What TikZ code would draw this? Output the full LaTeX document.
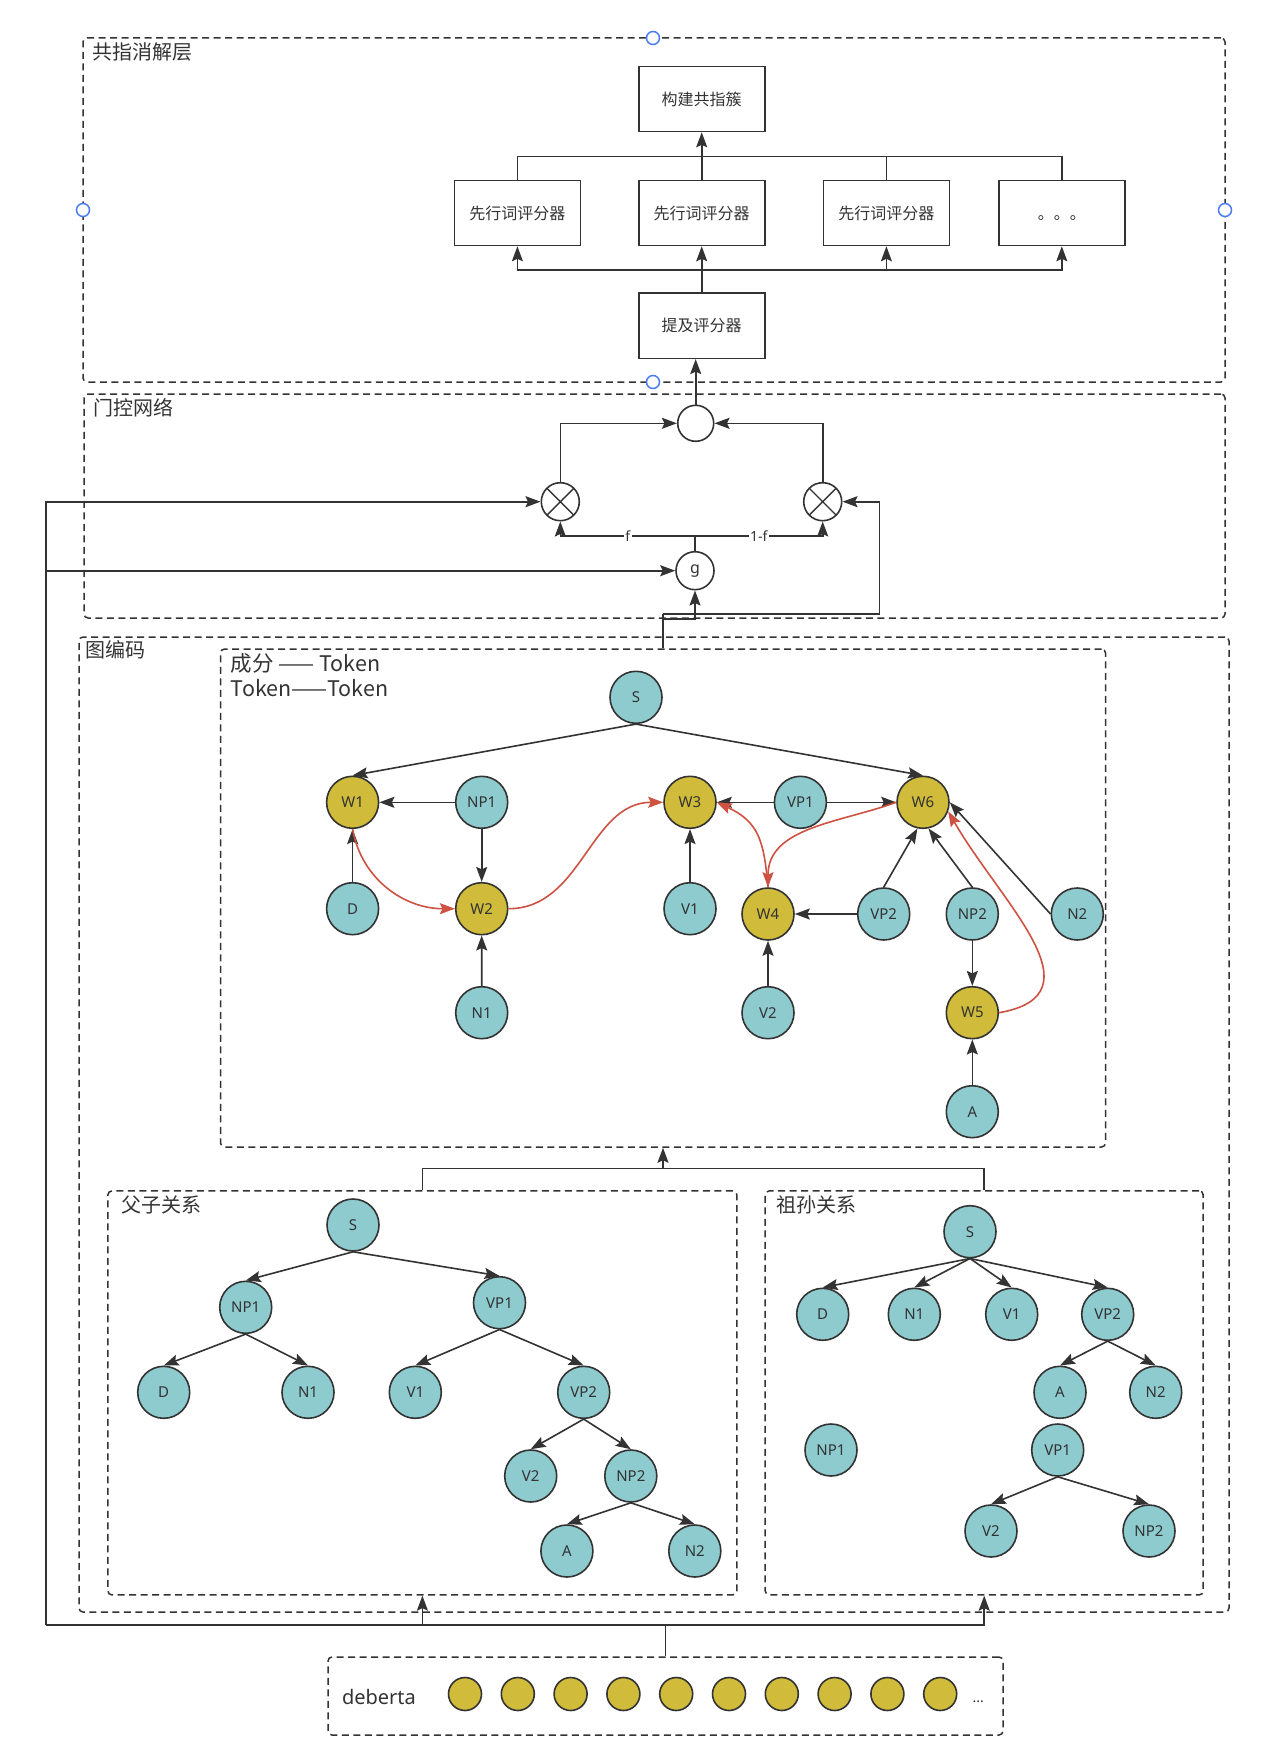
\documentclass[tikz,border=0pt]{standalone}
\usepackage{fontspec}
\setmainfont{Noto Sans}
\newfontfamily\cjk{Noto Sans CJK SC}
\usepackage{xcolor}
\definecolor{linegray}{RGB}{51,51,51}
\definecolor{tealfill}{RGB}{142,203,207}
\definecolor{goldfill}{RGB}{208,188,58}
\definecolor{arcred}{RGB}{205,82,66}
\definecolor{handleblue}{RGB}{74,122,245}
\usepackage{tikz}
\usetikzlibrary{arrows.meta}
\usetikzlibrary{calc}
\newcommand{\sizevertex}{52pt}
\newcommand{\sizeemb}{33pt}
\newcommand{\widthscorer}{126pt}
\newcommand{\heightscorer}{65pt}
\tikzset{
    common/.style={draw=linegray, line width=1.6pt, text=linegray},
    vertex/.style={common, circle, minimum size=\sizevertex, inner sep=0pt, font=\fontsize{15}{18}\selectfont},
    cons/.style={vertex, fill=tealfill},
    tok/.style={vertex, fill=goldfill},
    emb/.style={common, circle, fill=goldfill, minimum size=\sizeemb, inner sep=0pt},
    scorer/.style={common, rectangle, minimum width=\widthscorer, minimum height=\heightscorer, font=\cjk\fontsize{16}{19}\selectfont},
    op/.style={common, circle, minimum size=38pt, inner sep=0pt, font=\fontsize{16}{19}\selectfont},
    mul/.style={
        op,
        path picture={
            \draw[linegray, line width=1.4pt]
                (path picture bounding box.south east)--(path picture bounding box.north west)
                (path picture bounding box.south west)--(path picture bounding box.north east);
        }
    },
    panel/.style={draw=linegray, line width=1.5pt, dash pattern=on 7pt off 4.5pt, rounded corners=4pt, inner sep=0pt},
    paneltitle/.style={anchor=west, inner sep=0pt, text=linegray, font=\cjk\fontsize{20}{24}\selectfont},
    wire/.style={draw=linegray, line width=1.6pt},
    link/.style={wire, -{Stealth[length=15pt, width=11pt, inset=2.5pt]}},
    coref/.style={draw=arcred, line width=1.6pt, -{Stealth[length=15pt, width=11pt, inset=2.5pt]}},
    gatelabel/.style={fill=white, inner sep=1.5pt, text=linegray, font=\fontsize{14}{16}\selectfont},
    handle/.style={circle, draw=handleblue, fill=white, line width=1.5pt, minimum size=13pt, inner sep=0pt}
}

\begin{document}
\begin{tikzpicture}[x=1pt, y=-1pt]
    \useasboundingbox (0,0) rectangle (1276,1760);

    \node[panel, minimum width=1142pt, minimum height=344pt] (coref-layer) at (654,210) {};
    \node[panel, minimum width=1141pt, minimum height=224pt] (gate-layer) at (654.5,506) {};
    \node[panel, minimum width=1150pt, minimum height=975pt] (graph-layer) at (654,1124.5) {};
    \node[panel, minimum width=885pt, minimum height=498pt] (tokens) at (663,898) {};
    \node[panel, minimum width=629pt, minimum height=404pt] (parent) at (422.4,1392.9) {};
    \node[panel, minimum width=438pt, minimum height=404pt] (grand) at (984.2,1392.9) {};
    \node[panel, minimum width=675pt, minimum height=78pt] (deberta) at (665.5,1696) {};

    \node[paneltitle] (coref-title) at (92,52) {共指消解层};
    \node[paneltitle] (gate-title) at (93.6,408) {门控网络};
    \node[paneltitle] (graph-title) at (85,650) {图编码};
    \node[paneltitle, font=\cjk\fontsize{21.5}{25}\selectfont] (tokens-title-a) at (230.5,663.3) {成分 —— Token};
    \node[paneltitle, font=\cjk\fontsize{21.5}{25}\selectfont] (tokens-title-b) at (230.5,688.3) {Token——Token};
    \node[paneltitle] (parent-title) at (121.6,1205) {父子关系};
    \node[paneltitle] (grand-title) at (776.7,1205) {祖孙关系};

    \node[scorer] (cluster) at (701.7,99) {构建共指簇};
    \path (517.4,213) node[scorer] (ante-a) {先行词评分器}
        ++(184.3,0) node[scorer] (ante-b) {先行词评分器}
        ++(184.7,0) node[scorer] (ante-c) {先行词评分器}
        ++(175.4,0) node[scorer, text height=14pt, text depth=0pt] (ante-more) {。。。};
    \node[scorer] (mention) at (701.7,325.8) {提及评分器};

    \coordinate (lowbus) at (701.7,270);
    \coordinate (upbus) at (701.7,156.7);
    \draw[wire] (mention.north) -- (lowbus);
    \draw[link] (lowbus) -| (ante-a.south);
    \draw[link] (lowbus) -- (ante-b.south);
    \draw[link] (lowbus) -| (ante-c.south);
    \draw[link] (lowbus) -| (ante-more.south);
    \draw[wire] (ante-a.north) |- (upbus) -| (ante-more.north);
    \draw[wire] (ante-b.north) -- (upbus);
    \draw[wire] (ante-c.north) -- (ante-c.north |- upbus);
    \draw[link] (upbus) -- (cluster.south);

    \node[op, minimum size=36pt] (sum) at (695.7,423.3) {};
    \node[mul] (mul-l) at (560.3,501.7) {};
    \node[mul] (mul-r) at (822.7,501.7) {};
    \node[op] (gate) at (695,570.7) {g};

    \draw[link] (sum.north) -- (sum.north |- mention.south);
    \draw[link] (mul-l.north) |- (sum.west);
    \draw[link] (mul-r.north) |- (sum.east);
    \coordinate (split) at ($(gate.north)+(0,-15)$);
    \draw[wire] (gate.north) -- (split);
    \draw[link] (split) -| node[gatelabel, pos=0.25] {f} (mul-l.south);
    \draw[link] (split) -| node[gatelabel, pos=0.25] {1-f} (mul-r.south);

    \coordinate (feed) at (46,1625);
    \draw[link] (feed) |- (mul-l.west);
    \draw[link] (feed) |- (gate.west);

    \coordinate (tap) at (663,614);
    \coordinate (turn) at (879.3,614);
    \draw[wire] (tokens.north) -- (tap);
    \draw[link] (tap) -- (turn) |- (mul-r.east);
    \draw[link] ($(tap)+(0,5)$) -| (gate.south);

    \path (636,697.3) node[cons] (t-s) {S};
    \path (352.6,802.3) node[tok] (t-w1) {W1}
        ++(129.1,0) node[cons] (t-np1) {NP1}
        ++(208.3,0) node[tok] (t-w3) {W3}
        ++(110.4,0) node[cons] (t-vp1) {VP1}
        ++(122.6,0) node[tok] (t-w6) {W6};
    \path (352.6,908.7) node[cons] (t-d) {D}
        ++(129.1,0) node[tok] (t-w2) {W2}
        ++(208.3,0) node[cons] (t-v1) {V1};
    \path (768,914) node[tok] (t-w4) {W4}
        ++(115.7,0) node[cons] (t-vp2) {VP2}
        ++(88.6,0) node[cons] (t-np2) {NP2}
        ++(105,0) node[cons] (t-n2) {N2};
    \path (481.7,1012.7) node[cons] (t-n1) {N1}
        ++(286.3,0) node[cons] (t-v2) {V2}
        ++(204.3,0) node[tok] (t-w5) {W5}
        ++(0,99) node[cons] (t-a) {A};

    \draw[link] (t-s.south) -- (t-w1.north);
    \draw[link] (t-s.south) -- (t-w6.north);
    \draw[link] (t-np1) -- (t-w1);
    \draw[link] (t-np1) -- (t-w2);
    \draw[link] (t-d) -- (t-w1);
    \draw[link] (t-n1) -- (t-w2);
    \draw[link] (t-vp1) -- (t-w3);
    \draw[link] (t-vp1) -- (t-w6);
    \draw[link] (t-v1) -- (t-w3);
    \draw[link] (t-vp2) -- (t-w4);
    \draw[link] (t-v2) -- (t-w4);
    \draw[link] (t-vp2.north) -- (t-w6.258);
    \draw[link] (t-np2.north) -- (t-w6.282);
    \draw[link] (t-n2.west) -- (t-w6.east);
    \draw[link] (t-np2) -- (t-w5);
    \draw[link] (t-a) -- (t-w5);

    \draw[coref] (t-w1.south) to[out=-80, in=180] (t-w2.west);
    \draw[coref] (t-w2.east) to[out=0, in=180] (t-w3.west);
    \draw[coref] (t-w4.north) to[out=95, in=-25, looseness=1.2] (t-w3.east);
    \draw[coref] (t-w6.west) to[out=200, in=90] (t-w4.north);
    \draw[coref] (t-w5.east) to[out=10, in=-60, looseness=1.3] (t-w6.-20);

    \coordinate (merge) at (663,1168.4);
    \draw[wire] (parent.north) |- (merge) -| (grand.north);
    \draw[link] (merge) -- (tokens.south);

    \path (353,1225) node[cons] (p-s) {S};
    \path (245.7,1307.3) node[cons] (p-np1) {NP1};
    \path (499.5,1302.7) node[cons] (p-vp1) {VP1};
    \path (163.7,1392.3) node[cons] (p-d) {D}
        ++(144.3,0) node[cons] (p-n1) {N1}
        ++(107.3,0) node[cons] (p-v1) {V1}
        ++(168.4,0) node[cons] (p-vp2) {VP2};
    \path (530.7,1476) node[cons] (p-v2) {V2}
        ++(100.1,0) node[cons] (p-np2) {NP2};
    \path (566.9,1551) node[cons] (p-a) {A}
        ++(127.9,0) node[cons] (p-n2) {N2};

    \draw[link] (p-s.south) -- (p-np1.north);
    \draw[link] (p-s.south) -- (p-vp1.north);
    \draw[link] (p-np1.south) -- (p-d.north);
    \draw[link] (p-np1.south) -- (p-n1.north);
    \draw[link] (p-vp1.south) -- (p-v1.north);
    \draw[link] (p-vp1.south) -- (p-vp2.north);
    \draw[link] (p-vp2.south) -- (p-v2.north);
    \draw[link] (p-vp2.south) -- (p-np2.north);
    \draw[link] (p-np2.south) -- (p-a.north);
    \draw[link] (p-np2.south) -- (p-n2.north);

    \path (970,1231.7) node[cons] (g-s) {S};
    \path (822.7,1314.3) node[cons] (g-d) {D}
        ++(91.6,0) node[cons] (g-n1) {N1}
        ++(97.4,0) node[cons] (g-v1) {V1}
        ++(96,0) node[cons] (g-vp2) {VP2};
    \path (1060,1392.3) node[cons] (g-a) {A}
        ++(95.7,0) node[cons] (g-n2) {N2};
    \path (831,1450) node[cons] (g-np1) {NP1}
        ++(226.7,0) node[cons] (g-vp1) {VP1};
    \path (991,1531) node[cons] (g-v2) {V2}
        ++(158,0) node[cons] (g-np2) {NP2};

    \draw[link] (g-s.south) -- (g-d.north);
    \draw[link] (g-s.south) -- (g-n1.north);
    \draw[link] (g-s.south) -- (g-v1.north);
    \draw[link] (g-s.south) -- (g-vp2.north);
    \draw[link] (g-vp2.south) -- (g-a.north);
    \draw[link] (g-vp2.south) -- (g-n2.north);
    \draw[link] (g-vp1.south) -- (g-v2.north);
    \draw[link] (g-vp1.south) -- (g-np2.north);

    \coordinate (inbus) at (665.5,1625);
    \draw[wire] (deberta.north) -- (inbus);
    \draw[wire] (inbus) -- (feed);
    \draw[link] (inbus) -| (parent.south);
    \draw[link] (inbus) -| (grand.south);

    \path (379,1697) node[text=linegray, font=\fontsize{20}{24}\selectfont] (deberta-label) {deberta}
        ++(86,-3) node[emb] (e0) {}
        ++(52.8,0) node[emb] (e1) {}
        ++(52.8,0) node[emb] (e2) {}
        ++(52.8,0) node[emb] (e3) {}
        ++(52.8,0) node[emb] (e4) {}
        ++(52.8,0) node[emb] (e5) {}
        ++(52.8,0) node[emb] (e6) {}
        ++(52.8,0) node[emb] (e7) {}
        ++(52.8,0) node[emb] (e8) {}
        ++(52.8,0) node[emb] (e9) {}
        ++(38,8) node[text=linegray, font=\fontsize{14}{16}\selectfont] (e-more) {...};

    \node[handle] (handle-n) at (653,38) {};
    \node[handle] (handle-w) at (83,210) {};
    \node[handle] (handle-e) at (1225,210) {};
    \node[handle] (handle-s) at (653,382) {};
\end{tikzpicture}
\end{document}
